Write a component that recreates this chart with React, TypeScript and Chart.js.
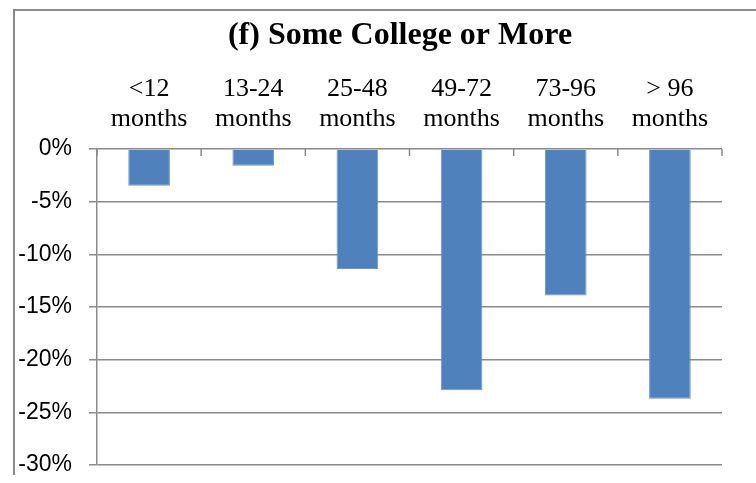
import React, { useEffect, useRef } from 'react';
import { Chart, registerables, ChartConfiguration, Plugin } from 'chart.js';

Chart.register(...registerables);

const chartTitle = '(f) Some College or More';
const categories = [
  ['<12', 'months'],
  ['13-24', 'months'],
  ['25-48', 'months'],
  ['49-72', 'months'],
  ['73-96', 'months'],
  ['> 96', 'months'],
];
// percent change
const values = [-3.5, -1.6, -11.4, -22.9, -13.9, -23.7];
const yMin = -30;
const yMax = 0;
const yStep = 5;

const axisGray = '#8a8a8a';

// small tick marks hanging down from the 0% line, between categories
const innerTicks: Plugin<'bar'> = {
  id: 'innerTicks',
  afterDatasetsDraw(chart) {
    const x = chart.scales.x;
    const ctx = chart.ctx;
    const n = categories.length;
    const top = chart.chartArea.top;
    ctx.save();
    ctx.strokeStyle = axisGray;
    ctx.lineWidth = 1.5;
    for (let i = 0; i <= n; i++) {
      const px = x.left + (i * x.width) / n;
      ctx.beginPath();
      ctx.moveTo(px, top);
      ctx.lineTo(px, top + 7);
      ctx.stroke();
    }
    ctx.restore();
  },
};

const App: React.FC = () => {
  const canvasRef = useRef<HTMLCanvasElement>(null);
  const chartRef = useRef<Chart | null>(null);

  useEffect(() => {
    if (chartRef.current) chartRef.current.destroy();
    const ctx = canvasRef.current!.getContext('2d');

    const config: ChartConfiguration<'bar'> = {
      type: 'bar',
      data: {
        labels: categories,
        datasets: [
          {
            data: values,
            backgroundColor: '#4F81BD',
            borderColor: '#6a96cc',
            borderWidth: 1,
            barPercentage: 0.4,
            categoryPercentage: 1,
          },
        ],
      },
      options: {
        animation: false,
        responsive: false,
        layout: { padding: { left: 0, right: 0, top: 0, bottom: 42 } },
        plugins: {
          legend: { display: false },
          tooltip: { enabled: false },
          title: {
            display: true,
            text: chartTitle,
            color: '#000',
            font: { family: '"Liberation Serif", "Times New Roman", serif', size: 32, weight: 'bold', lineHeight: 1.2 },
            padding: { top: 6, bottom: 4 },
          },
        },
        scales: {
          x: {
            position: 'top',
            grid: { display: false },
            border: { display: false },
            ticks: {
              color: '#000',
              padding: 7,
              maxRotation: 0,
              font: { family: '"Liberation Serif", "Times New Roman", serif', size: 26, lineHeight: 1.15 },
            },
            afterFit: (scale) => {
              scale.height = 89.6;
            },
          },
          y: {
            min: yMin,
            max: yMax,
            grid: { color: axisGray, lineWidth: 1.5, tickLength: 8, tickColor: axisGray },
            border: { display: true, color: axisGray, width: 1.5 },
            ticks: {
              stepSize: yStep,
              color: '#000',
              padding: 17,
              font: { family: '"Liberation Sans", Arial, sans-serif', size: 23 },
              callback: (v) => `${v}%`,
            },
            afterFit: (scale) => {
              scale.width = 82;
            },
          },
          // empty right-hand axis, only reserves the frame's right margin
          yRight: {
            position: 'right',
            min: yMin,
            max: yMax,
            grid: { display: false },
            border: { display: false },
            ticks: { display: false },
            afterFit: (scale) => {
              scale.width = 63;
            },
          },
        },
      },
      plugins: [innerTicks],
    };

    chartRef.current = new Chart(ctx!, config);
    return () => {
      chartRef.current?.destroy();
      chartRef.current = null;
    };
  }, []);

  return (
    <div style={{ position: 'fixed', left: 0, top: 0, width: 756, height: 483, overflow: 'hidden', background: '#fff' }}>
      <div
        style={{
          position: 'absolute',
          left: 13,
          top: 9,
          width: 774,
          height: 466,
          borderLeft: `2px solid ${axisGray}`,
          borderTop: `2px solid ${axisGray}`,
          boxSizing: 'border-box',
        }}
      >
        <canvas ref={canvasRef} width={770} height={496} style={{ display: 'block' }} />
      </div>
    </div>
  );
};

export default App;
